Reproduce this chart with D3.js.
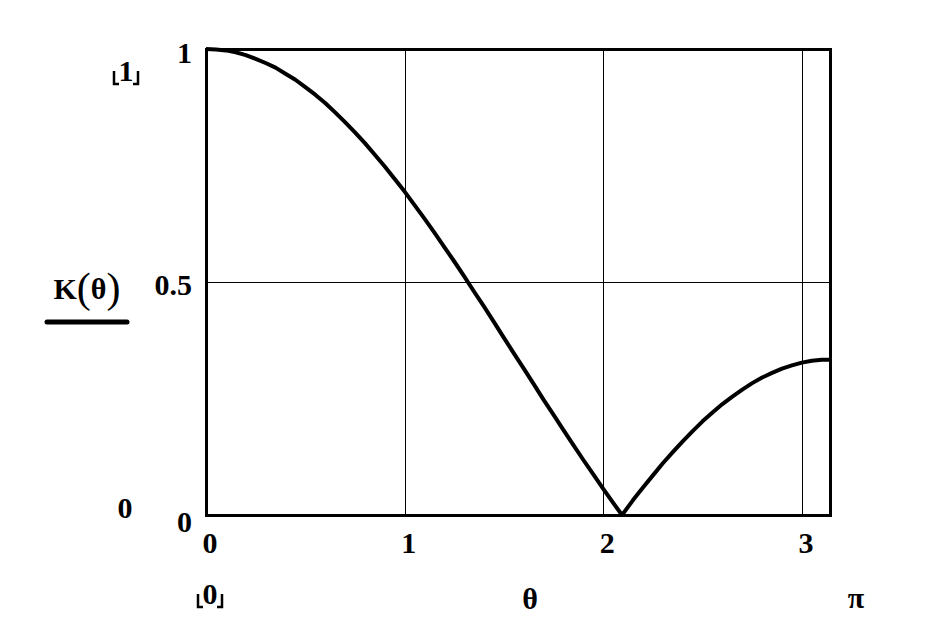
<!DOCTYPE html>
<html><head><meta charset="utf-8">
<script src="https://cdn.jsdelivr.net/npm/d3@7"></script>
<style>html,body{margin:0;padding:0;background:#fff;}svg{display:block;}
text{font-family:"Liberation Serif","Times New Roman",serif;font-weight:bold;fill:#000;}</style>
</head><body>
<script>
const thetaValues = [0,0.05,0.1,0.15,0.2,0.25,0.3,0.35,0.4,0.45,0.5,0.55,0.6,0.65,0.7,0.75,0.8,0.85,0.9,0.95,1.0,1.05,1.1,1.15,1.2,1.25,1.3,1.35,1.4,1.45,1.5,1.55,1.6,1.65,1.7,1.75,1.8,1.85,1.9,1.95,2.0,2.05,2.0944,2.1,2.15,2.2,2.25,2.3,2.35,2.4,2.45,2.5,2.55,2.6,2.65,2.7,2.75,2.8,2.85,2.9,2.95,3.0,3.05,3.1,3.1416];
const kValues = [1,0.999,0.997,0.993,0.987,0.979,0.970,0.960,0.947,0.934,0.918,0.902,0.884,0.864,0.843,0.821,0.798,0.773,0.748,0.721,0.694,0.665,0.636,0.606,0.575,0.544,0.512,0.479,0.447,0.414,0.380,0.347,0.314,0.281,0.247,0.215,0.182,0.150,0.118,0.087,0.056,0.026,0,0.003,0.032,0.059,0.085,0.111,0.135,0.158,0.180,0.201,0.220,0.238,0.254,0.269,0.283,0.295,0.305,0.314,0.321,0.327,0.331,0.333,0.333];
const xTicks = [0,1,2,3];
const yTicks = [0,0.5,1];
const xTickLabels = ["0","1","2","3"];
const yTickLabels = ["0","0.5","1"];

const W=944,H=642;
const L=206,R=830,T=49,B=515;
const svg=d3.select("body").append("svg").attr("width",W).attr("height",H);
const x=d3.scaleLinear().domain([0,Math.PI]).range([L,R]);
const y=d3.scaleLinear().domain([0,1]).range([B,T]);

// grid
const g=svg.append("g").attr("shape-rendering","crispEdges");
g.selectAll(".vx").data(xTicks.filter(d=>d>0)).enter().append("line")
 .attr("x1",d=>Math.round(x(d))+0.5).attr("x2",d=>Math.round(x(d))+0.5).attr("y1",T).attr("y2",B)
 .attr("stroke","#000").attr("stroke-width",1);
g.selectAll(".hy").data(yTicks.filter(d=>d>0&&d<1)).enter().append("line")
 .attr("y1",d=>Math.round(y(d))+0.5).attr("y2",d=>Math.round(y(d))+0.5).attr("x1",L).attr("x2",R)
 .attr("stroke","#000").attr("stroke-width",1);

// curve
const data=thetaValues.map((t,i)=>({t,k:kValues[i]}));
svg.append("path").datum(data)
 .attr("d",d3.line().x(d=>x(d.t)).y(d=>y(d.k)).curve(d3.curveLinear))
 .attr("fill","none").attr("stroke","#000").attr("stroke-width",4).attr("stroke-linejoin","round");

// frame
svg.append("rect").attr("x",L).attr("y",T).attr("width",R-L).attr("height",B-T)
 .attr("fill","none").attr("stroke","#000").attr("stroke-width",3).attr("shape-rendering","crispEdges");

// tick labels
const fs=30;
svg.selectAll(".xt").data(xTicks).enter().append("text")
 .attr("x",d=>x(d)+4).attr("y",553).attr("text-anchor","middle").attr("font-size",fs)
 .text((d,i)=>xTickLabels[i]);
svg.selectAll(".yt").data(yTicks).enter().append("text")
 .attr("x",192).attr("y",d=>d===0?532:(d===1?63:295)).attr("text-anchor","end").attr("font-size",fs)
 .text((d,i)=>yTickLabels[i]);

// extra range labels
svg.append("text").attr("x",125).attr("y",518).attr("text-anchor","middle").attr("font-size",fs).text("0");
function bracketLabel(cx,base,txt){
  svg.append("text").attr("x",cx).attr("y",base).attr("text-anchor","middle").attr("font-size",fs).text(txt);
  const p=svg.append("g").attr("stroke","#000").attr("stroke-width",2.5).attr("fill","none");
  p.append("path").attr("d",`M${cx-12},${base-10} V${base+3} H${cx-7}`);
  p.append("path").attr("d",`M${cx+12},${base-10} V${base+3} H${cx+7}`);
}
bracketLabel(126,81,"1");
bracketLabel(210,604,"0");
svg.append("text").attr("x",530).attr("y",609).attr("text-anchor","middle").attr("font-size",fs).text("θ");
svg.append("text").attr("x",856).attr("y",608).attr("text-anchor","middle").attr("font-size",fs).text("π");

// y label K(θ)
const yl=svg.append("text").attr("x",87).attr("y",299).attr("text-anchor","middle").attr("font-size",fs);
yl.append("tspan").text("K");
yl.append("tspan").attr("font-size",42).attr("font-weight","normal").attr("dy",3).text("(");
yl.append("tspan").attr("font-size",fs).attr("dy",-3).text("θ");
yl.append("tspan").attr("font-size",42).attr("font-weight","normal").attr("dy",3).text(")");
svg.append("line").attr("x1",47).attr("x2",127).attr("y1",322).attr("y2",322)
 .attr("stroke","#000").attr("stroke-width",5).attr("stroke-linecap","round");
</script>
</body></html>
